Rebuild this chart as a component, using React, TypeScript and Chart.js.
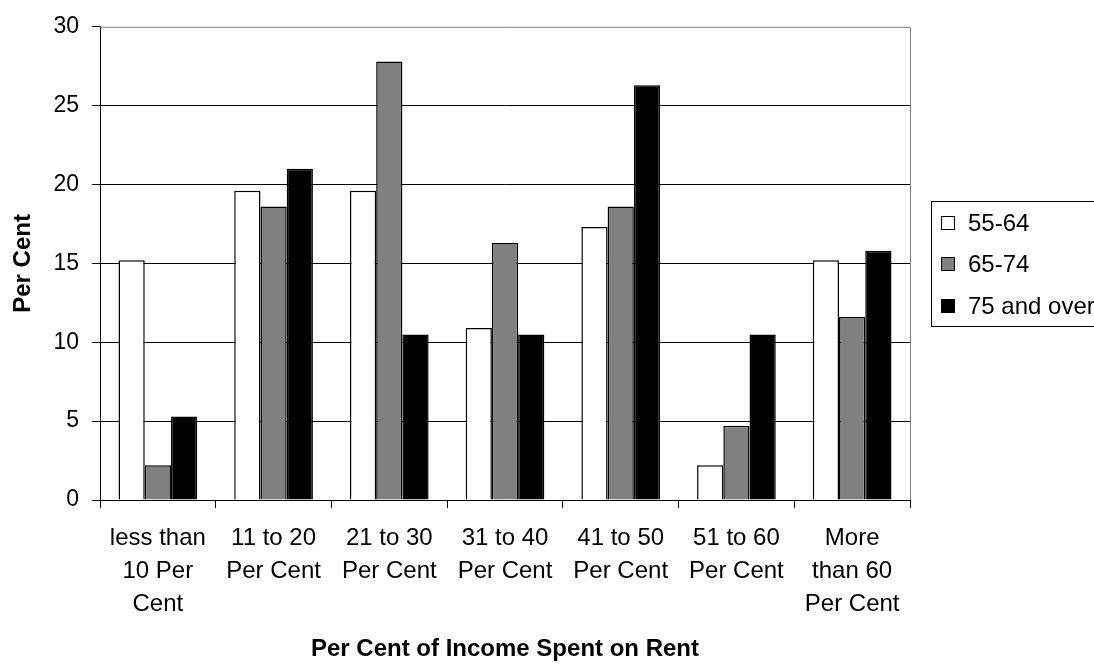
import React, { useEffect, useRef } from "react";
import { Chart, registerables } from "chart.js";

Chart.register(...registerables);

const categories: string[][] = [
  ["less than", "10 Per", "Cent"],
  ["11 to 20", "Per Cent"],
  ["21 to 30", "Per Cent"],
  ["31 to 40", "Per Cent"],
  ["41 to 50", "Per Cent"],
  ["51 to 60", "Per Cent"],
  ["More", "than 60", "Per Cent"],
];

const seriesNames = ["55-64", "65-74", "75 and over"];
const age55to64 = [15.2, 19.6, 19.6, 10.9, 17.3, 2.2, 15.2];
const age65to74 = [2.2, 18.6, 27.8, 16.3, 18.6, 4.7, 11.6];
const age75plus = [5.3, 21.0, 10.5, 10.5, 26.3, 10.5, 15.8];
const seriesColors = ["#ffffff", "#808080", "#000000"];

const yTicks = [0, 5, 10, 15, 20, 25, 30];
const xTitle = "Per Cent of Income Spent on Rent";
const yTitle = "Per Cent";

const FONT = "'Liberation Sans', Arial, sans-serif";

const frameAndLegend = {
  id: "frameAndLegend",
  beforeDatasetsDraw(chart: any) {
    const { ctx, chartArea } = chart;
    ctx.save();
    ctx.strokeStyle = "#808080";
    ctx.lineWidth = 1;
    ctx.beginPath();
    ctx.moveTo(chartArea.left, chartArea.top + 0.5);
    ctx.lineTo(Math.round(chartArea.right) + 0.5, chartArea.top + 0.5);
    ctx.lineTo(Math.round(chartArea.right) + 0.5, chartArea.bottom);
    ctx.stroke();
    ctx.restore();
  },
  afterDraw(chart: any) {
    const { ctx, chartArea } = chart;
    const boxLeft = chartArea.right + 21;
    const boxTop = 201;
    const boxBottom = 326;
    ctx.save();
    ctx.strokeStyle = "#000";
    ctx.lineWidth = 1;
    ctx.strokeRect(Math.round(boxLeft) + 0.5, boxTop + 0.5, chart.width, boxBottom - boxTop);
    ctx.font = `24px ${FONT}`;
    ctx.textBaseline = "middle";
    ctx.fillStyle = "#000";
    const rows = [223, 264, 306];
    chart.data.datasets.forEach((ds: any, i: number) => {
      const cy = rows[i];
      const sx = Math.round(boxLeft) + 10;
      ctx.fillStyle = ds.backgroundColor;
      ctx.fillRect(sx + 0.5, cy - 7 + 0.5, 13, 13);
      ctx.strokeStyle = "#000";
      ctx.strokeRect(sx + 0.5, cy - 7 + 0.5, 13, 13);
      ctx.fillStyle = "#000";
      ctx.fillText(ds.label, sx + 27, cy + 1);
    });
    ctx.restore();
  },
};

export default function App() {
  const canvasRef = useRef<HTMLCanvasElement | null>(null);

  useEffect(() => {
    if (!canvasRef.current) return;
    const values = [age55to64, age65to74, age75plus];
    const chart = new Chart(canvasRef.current, {
      type: "bar",
      data: {
        labels: categories,
        datasets: seriesNames.map((name, i) => ({
          label: name,
          data: values[i],
          backgroundColor: seriesColors[i],
          borderColor: "#000",
          borderWidth: 1.5,
          categoryPercentage: 0.68,
          barPercentage: 1,
        })),
      },
      options: {
        animation: false,
        responsive: true,
        maintainAspectRatio: false,
        layout: { padding: { top: 26, right: 184, left: 0, bottom: 0 } },
        plugins: {
          legend: { display: false },
          tooltip: { enabled: false },
        },
        scales: {
          x: {
            offset: true,
            grid: {
              offset: true,
              drawOnChartArea: false,
              drawTicks: true,
              tickLength: 8,
              color: "#000",
            },
            border: { color: "#000", width: 1 },
            ticks: {
              color: "#000",
              font: { family: FONT, size: 24, lineHeight: 1.38 },
              padding: 14,
              maxRotation: 0,
              minRotation: 0,
              autoSkip: false,
            },
            title: {
              display: true,
              text: xTitle,
              color: "#000",
              font: { family: FONT, size: 24, weight: "bold" },
              padding: { top: 0, bottom: 0 },
            },
            afterFit(scale: any) {
              scale.height = 164;
            },
          },
          y: {
            min: 0,
            max: 30,
            afterBuildTicks(scale: any) {
              scale.ticks = yTicks.map((v) => ({ value: v }));
            },
            grid: {
              color: (c: any) => (c.tick && c.tick.value === 30 ? "rgba(0,0,0,0)" : "#000"),
              tickColor: "#000",
              tickLength: 8,
              drawTicks: true,
            },
            border: { color: "#000", width: 1 },
            ticks: {
              color: "#000",
              font: { family: FONT, size: 23 },
              padding: 13,
            },
            title: {
              display: true,
              text: yTitle,
              color: "#000",
              font: { family: FONT, size: 24, weight: "bold" },
              padding: { top: 9, bottom: 0 },
            },
            afterFit(scale: any) {
              scale.width = 100;
            },
          },
        },
      },
      plugins: [frameAndLegend],
    });
    return () => chart.destroy();
  }, []);

  return (
    <div style={{ position: "fixed", left: 0, top: 0, width: 1094, height: 664, background: "#fff" }}>
      <canvas ref={canvasRef} />
    </div>
  );
}
